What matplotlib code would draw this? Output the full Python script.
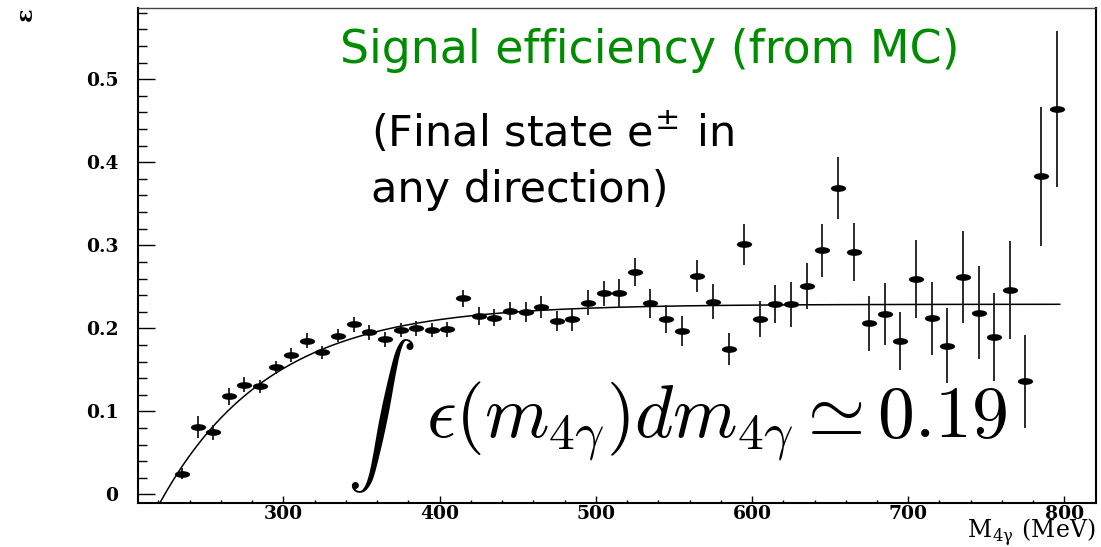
import numpy as np
import matplotlib
matplotlib.use("Agg")
import matplotlib.pyplot as plt
from matplotlib.path import Path
from matplotlib.transforms import Affine2D

# Bin centres of the 4-photon invariant mass (MeV)
mass = [235, 245, 255, 265, 275, 285, 295, 305, 315, 325,
        335, 345, 355, 365, 375, 385, 395, 405, 415, 425,
        435, 445, 455, 465, 475, 485, 495, 505, 515, 525,
        535, 545, 555, 565, 575, 585, 595, 605, 615, 625,
        635, 645, 655, 665, 675, 685, 695, 705, 715, 725,
        735, 745, 755, 765, 775, 785, 795]

# MC signal efficiency per bin and its statistical error
eff = [0.025, 0.081, 0.075, 0.118, 0.132, 0.130, 0.153, 0.168, 0.185, 0.171,
       0.191, 0.205, 0.195, 0.187, 0.198, 0.200, 0.198, 0.199, 0.236, 0.215,
       0.213, 0.221, 0.220, 0.226, 0.209, 0.211, 0.231, 0.242, 0.242, 0.268,
       0.230, 0.211, 0.197, 0.263, 0.232, 0.175, 0.301, 0.211, 0.229, 0.229,
       0.251, 0.294, 0.369, 0.292, 0.206, 0.217, 0.185, 0.259, 0.212, 0.179,
       0.262, 0.219, 0.189, 0.246, 0.136, 0.383, 0.464]
err = [0.007, 0.013, 0.009, 0.010, 0.009, 0.008, 0.008, 0.008, 0.009, 0.008,
       0.008, 0.009, 0.009, 0.009, 0.009, 0.009, 0.009, 0.009, 0.010, 0.011,
       0.010, 0.011, 0.012, 0.013, 0.012, 0.014, 0.015, 0.015, 0.017, 0.017,
       0.017, 0.017, 0.018, 0.019, 0.021, 0.019, 0.025, 0.022, 0.023, 0.027,
       0.028, 0.032, 0.037, 0.035, 0.033, 0.037, 0.035, 0.047, 0.044, 0.045,
       0.055, 0.056, 0.053, 0.059, 0.056, 0.084, 0.094]

# Threshold fit: p0 * (1 - exp(-(m - m0)/tau))
fit_p0 = 0.229
fit_m0 = 224.0
fit_tau = 70.0
fit_range = (215.0, 797.0)

xticks = [300, 400, 500, 600, 700, 800]
yticks = [0, 0.1, 0.2, 0.3, 0.4, 0.5]

plt.rcParams['mathtext.fontset'] = 'cm'

W, H = 1101, 547
fig = plt.figure(figsize=(W / 100, H / 100), dpi=100)
ax = fig.add_axes([137.7 / W, 1 - 503.3 / H, (1095.5 - 137.7) / W, (503.3 - 8.3) / H])

# fitted curve
xs = np.linspace(fit_range[0], fit_range[1], 500)
ax.plot(xs, fit_p0 * (1 - np.exp(-(xs - fit_m0) / fit_tau)), color='black', lw=1.1)

# points: vertical error bars plus flattened elliptical markers
ax.errorbar(mass, eff, yerr=err, fmt='none', ecolor='#1a1a1a', elinewidth=1.3, capsize=0)
ellipse = Path.unit_circle().transformed(Affine2D().scale(1.0, 0.44))
ax.plot(mass, eff, ls='none', marker=ellipse, ms=11, color='black', mec='black', mew=0)

ax.set_xlim(206.7, 819.9)
ax.set_ylim(-0.0108, 0.5855)

ax.set_xticks(xticks)
ax.set_xticks(np.arange(220, 820, 20), minor=True)
ax.set_yticks(yticks)
ax.set_yticks(np.arange(0, 0.59, 0.02), minor=True)
ax.set_yticklabels(['0', '0.1', '0.2', '0.3', '0.4', '0.5'])
ax.tick_params(axis='x', which='major', direction='in', length=5.3, width=1.0, pad=1)
ax.tick_params(axis='x', which='minor', direction='in', length=2.4, width=1.0)
ax.tick_params(axis='y', which='major', direction='in', length=12.5, width=1.0, pad=14)
ax.tick_params(axis='y', which='minor', direction='in', length=6.5, width=1.0)
for lab in ax.get_xticklabels() + ax.get_yticklabels():
    lab.set_fontfamily('DejaVu Serif')
    lab.set_fontweight('bold')
    lab.set_fontsize(13.5)

for side in ['left', 'bottom', 'right']:
    ax.spines[side].set_linewidth(1.5)
ax.spines['top'].set_linewidth(1.0)
ax.spines['top'].set_color('#444444')

# axis titles
fig.text(26 / W, 1 - 14 / H, 'ε', rotation=90, ha='center', va='center',
         fontfamily='DejaVu Serif', fontweight='bold', fontsize=16)
fig.text(1095 / W, 1 - 538 / H, r'M$_{\mathregular{4γ}}$ (MeV)', ha='right', va='baseline',
         fontfamily='DejaVu Serif', fontsize=17)

# annotations
fig.text(340 / W, 1 - 63.3 / H, 'Signal efficiency (from MC)', color='#008c00',
         ha='left', va='baseline', fontfamily='DejaVu Sans', fontsize=33)
fig.text(371 / W, 1 - 147 / H, r'(Final state e$^{\mathregular{±}}$ in', color='black',
         ha='left', va='baseline', fontfamily='DejaVu Sans', fontsize=31)
fig.text(371 / W, 1 - 202 / H, 'any direction)', color='black',
         ha='left', va='baseline', fontfamily='DejaVu Sans', fontsize=31)

fig.text(347 / W, 1 - 495 / H, r'$\int$', ha='left', va='bottom', fontsize=50)
fig.text(426 / W, 1 - 436.7 / H, r'$\epsilon(m_{4\gamma})dm_{4\gamma} \simeq 0.19$',
         ha='left', va='baseline', fontsize=53)

fig.savefig('out.png', dpi=100)
